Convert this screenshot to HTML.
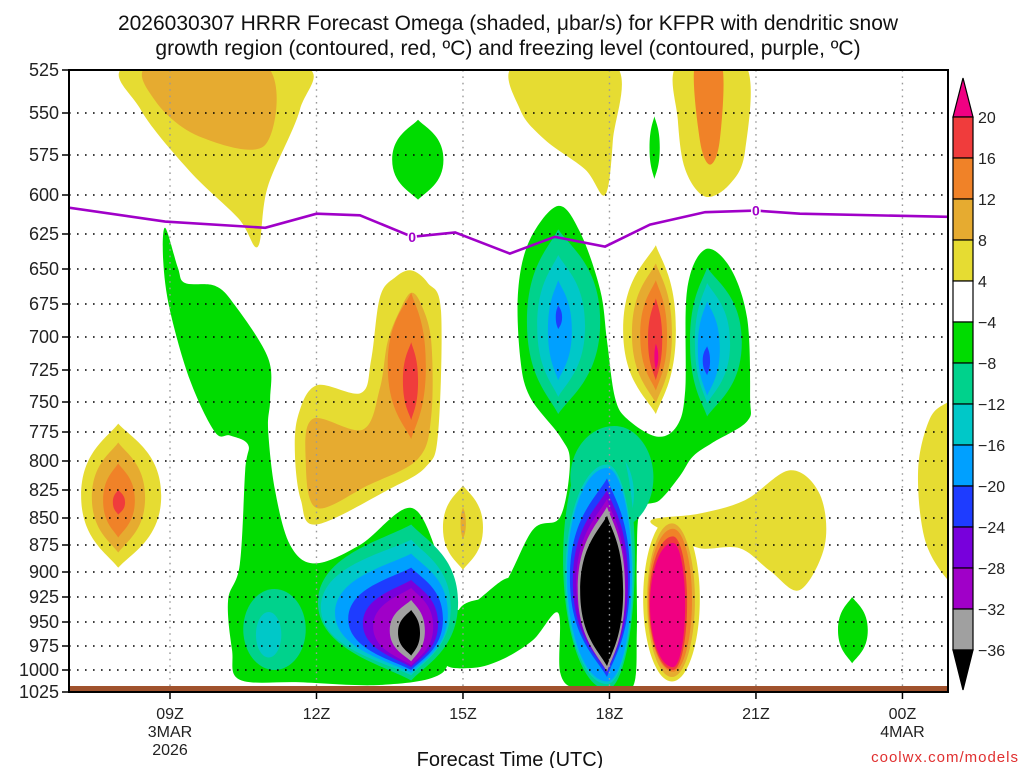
<!DOCTYPE html>
<html><head><meta charset="utf-8"><title>HRRR Omega KFPR</title>
<style>
html,body{margin:0;padding:0;background:#fff;}
svg{display:block;font-family:"Liberation Sans","DejaVu Sans",sans-serif;}
</style></head>
<body>
<svg id="chart" width="1024" height="768" viewBox="0 0 1024 768" xmlns="http://www.w3.org/2000/svg">
<rect width="1024" height="768" fill="#fff"/>
<text x="508" y="30" font-size="21" text-anchor="middle" fill="#111">2026030307 HRRR Forecast Omega (shaded, μbar/s) for KFPR with dendritic snow</text>
<text x="508" y="55" font-size="21" text-anchor="middle" fill="#111">growth region (contoured, red, ºC) and freezing level (contoured, purple, ºC)</text>
<defs><clipPath id="plotclip"><rect x="69" y="70" width="879" height="622"/></clipPath></defs>
<g id="fills" clip-path="url(#plotclip)"></g>
<g id="grid"></g>
<g id="fz" clip-path="url(#plotclip)"></g>
<rect x="69" y="686" width="879" height="6" fill="#a0522d"/>
<rect x="69" y="70" width="879" height="622" fill="none" stroke="#000" stroke-width="2"/>
<g id="axes"></g>
<g id="cbar"></g>
<text x="510" y="766" font-size="20" text-anchor="middle" fill="#111">Forecast Time (UTC)</text>
<text x="1019" y="762" font-size="15" text-anchor="end" fill="#e03030" letter-spacing="1">coolwx.com/models</text>
</svg>
<script>
const pressureTicks=[525,550,575,600,625,650,675,700,725,750,775,800,825,850,875,900,925,950,975,1000,1025];
const pressureTickY=[70,113,155,195,234,269,304,337,370,402,432,461,490,518,545,572,597,622,646,670,692];
const timeTicks=[9,12,15,18,21,24];
const timeTickLabels=["09Z","12Z","15Z","18Z","21Z","00Z"];
const timeTickSub1=["3MAR","","","","","4MAR"];
const timeTickSub2=["2026","","","","",""];
const cbarLabels=["20","16","12","8","4","−4","−8","−12","−16","−20","−24","−28","−32","−36"];
const freezeTimes=[6.91,8.90,10.95,12.0,12.89,13.96,14.84,15.96,16.88,17.91,18.83,19.96,21.0,21.9,24.93];
const freezePressures=[608,617,621,612,613,627,624,639,627,634,619,611,610,612,614];
const freezeLabelTimes=[13.96,21.0];
const freezeLabelPressures=[627,610];
const COL={Y:"#e6dc32",Og:"#e6ab30",O:"#f08228",R:"#f03c3c",M:"#f00082",G:"#00dc00",GT:"#00d28c",C:"#00c8c8",LB:"#00a0ff",B:"#1e3cff",V:"#7800dc",P:"#a000c8",Gr:"#a0a0a0",K:"#000000",W:"#ffffff"};
const polyLevels=["Y","Og","Y","Y","O","G","G","Y","Y"];
const polyPoints=[
 [[8.18,522],[11.66,522],[11.66,548],[11.0,595],[10.8,634],[10.4,615],[9.4,585],[8.4,548]],
 [[8.6,522],[10.95,522],[10.95,569],[9.6,564],[8.7,543]],
 [[16.07,522],[18.11,522],[18.07,566],[17.91,600],[17.5,584],[16.68,566],[16.17,548]],
 [[19.4,522],[20.78,522],[20.78,572],[20.47,593],[19.96,601],[19.55,584],[19.4,554]],
 [[19.75,522],[20.3,522],[20.26,566],[20.06,581],[19.85,566]],
 [[8.90,621],[9.16,649],[9.31,660],[9.92,662],[10.33,676],[11.01,716],[11.05,748],[11.01,773],[11.15,825],[11.46,875],[11.97,892],[12.89,875],[13.94,841],[14.53,889],[14.90,938],[15.92,906],[16.2,930],[14.90,969],[14.53,1005],[13.30,1017],[11.66,1014],[10.43,1011],[10.27,979],[10.19,928],[10.43,893],[10.54,808],[10.60,786],[10.23,778],[9.92,775],[9.41,733],[9.0,680],[8.86,644]],
 [[16.95,607],[17.40,624],[17.81,665],[17.95,703],[18.11,746],[18.36,764],[18.97,779],[19.38,770],[19.55,741],[19.59,665],[19.96,636],[20.47,649],[20.82,686],[20.88,746],[20.82,766],[20.12,784],[19.71,796],[19.44,813],[19.03,834],[18.63,843],[18.56,889],[18.56,961],[18.48,1019],[17.95,1025],[17.33,1022],[16.99,1003],[16.95,941],[16.43,969],[15.76,990],[15.14,998],[14.6,990],[14.94,936],[15.76,918],[16.43,861],[16.99,849],[17.19,801],[16.99,779],[16.37,746],[16.17,715],[16.13,665],[16.37,629]],
 [[18.85,852],[19.85,846],[20.78,834],[21.7,808],[22.31,829],[22.41,875],[21.9,918],[21.29,899],[20.67,878],[19.85,878],[19.3,866]],
 [[25.2,745],[24.93,750],[24.56,764],[24.32,808],[24.46,870],[24.93,908],[25.2,910]]
];
const blobLevels=["Y","Og","Y","Og","O","R","O","R","Y","Og","G","G","GT","C","GT","C","LB","B","V","P","Gr","K","GT","C","LB","B","GT","C","LB","B","Y","Og","O","R","M","GT","C","GT","C","LB","B","V","P","Gr","K","Y","Og","O","R","M","G"];
const blobTimes=[14.0,13.46,7.94,7.94,7.94,7.94,13.94,13.94,15.0,15.0,14.08,18.92,11.14,11.02,13.94,13.94,13.94,13.94,13.94,13.94,13.94,13.94,16.95,16.95,16.95,16.95,20.0,20.0,20.0,20.0,18.95,18.95,18.95,18.95,18.95,18.1,17.95,17.95,17.95,17.95,17.95,17.95,17.95,17.95,17.95,19.28,19.28,19.3,19.3,19.3,22.97];
const blobLeft=[13.0,0,7.18,7.40,7.63,7.83,13.46,13.77,14.59,14.95,13.55,18.82,10.5,10.76,12.03,12.09,12.38,12.65,12.95,13.16,13.5,13.67,16.31,16.52,16.74,16.9,19.65,19.75,19.81,19.91,18.28,18.46,18.63,18.79,18.92,17.2,17.4,17.05,17.10,17.13,17.19,17.25,17.32,17.35,17.40,18.69,18.77,18.79,18.81,18.83,22.68];
const blobRight=[0,0,8.82,8.49,8.28,8.08,14.24,14.08,15.41,15.06,14.6,19.03,11.78,11.28,14.90,14.75,14.69,14.59,14.49,14.39,14.22,14.12,17.81,17.50,17.23,17.03,20.71,20.47,20.26,20.06,19.36,19.28,19.18,19.08,19.0,18.9,18.5,18.52,18.48,18.46,18.42,18.38,18.33,18.32,18.28,19.85,19.75,19.69,19.59,19.55,23.29];
const blobTop=[0,0,768,784,802,825,667,704,821,840,554,552,917,940,856,870,883,896,908,916,928,938,622,640,658,676,649,660,673,707,633,646,658,671,705,770,790,773,803,806,815,825,833,840,848,849,855,860,867,873,925];
const blobBottom=[0,0,896,882,868,847,781,765,898,870,603,590,1000,987,1012,1006,1003,1000,997,995,991,985,760,746,733,694,762,751,745,729,760,751,741,733,725,860,870,1022,1016,1013,1008,1003,1000,1002,996,1013,1008,1002,1000,997,993];
const blobPointed=[0,0,1,1,1,1,1,1,1,1,1,1,0,0,1,1,1,1,1,1,1,1,1,1,1,1,1,1,1,1,1,1,1,1,1,0,0,0,0,0,1,1,1,1,1,0,0,0,0,0,1];
const centerPolyLevels=["Y","Og"];
const centerPolyPoints=[
 [[12.0,737],[12.91,743],[13.12,717],[13.30,670],[13.61,656],[13.94,651],[14.28,660],[14.55,680],[14.49,776],[14.24,805],[13.46,825],[12.0,856],[11.68,834],[11.56,796],[11.62,762]],
 [[11.93,764],[12.95,773],[13.30,739],[13.46,703],[13.73,678],[13.94,667],[14.14,675],[14.35,703],[14.35,762],[14.08,798],[13.05,821],[12.0,841],[11.78,799]]
];

const NS="http://www.w3.org/2000/svg";
const X0=170, PX_PER_H=48.83;
function X(t){return X0+(t-9)*PX_PER_H;}
function Y(p){
  if(p<=pressureTicks[0]) return pressureTickY[0]+(p-pressureTicks[0])*(pressureTickY[1]-pressureTickY[0])/25;
  for(let i=0;i<pressureTicks.length-1;i++){
    if(p<=pressureTicks[i+1]){const f=(p-pressureTicks[i])/(pressureTicks[i+1]-pressureTicks[i]);return pressureTickY[i]+f*(pressureTickY[i+1]-pressureTickY[i]);}
  }
  const n=pressureTicks.length-1;return pressureTickY[n]+(p-pressureTicks[n])*0.9;
}
function mk(tag,attrs,parent){const e=document.createElementNS(NS,tag);for(const k in attrs)e.setAttribute(k,attrs[k]);parent.appendChild(e);return e;}
function smoothPath(pts){
  const n=pts.length;let d="M"+pts[0][0].toFixed(1)+","+pts[0][1].toFixed(1);
  for(let i=0;i<n;i++){
    const p0=pts[(i-1+n)%n],p1=pts[i],p2=pts[(i+1)%n],p3=pts[(i+2)%n];
    const c1=[p1[0]+(p2[0]-p0[0])/6,p1[1]+(p2[1]-p0[1])/6];
    const c2=[p2[0]-(p3[0]-p1[0])/6,p2[1]-(p3[1]-p1[1])/6];
    d+="C"+c1[0].toFixed(1)+","+c1[1].toFixed(1)+" "+c2[0].toFixed(1)+","+c2[1].toFixed(1)+" "+p2[0].toFixed(1)+","+p2[1].toFixed(1);
  }
  return d+"Z";
}
function blobPath(tc,tl,tr,pt,pb,pointed){
  const xc=X(tc),xl=X(tl),xr=X(tr),yt=Y(pt),yb=Y(pb),ym=(yt+yb)/2;
  const kx=pointed?0.3:0.55, ky=pointed?0.6:0.55, ty=pointed?0.2:0;
  let d="M"+xc+","+yt;
  d+="C"+(xc+kx*(xr-xc))+","+(yt+ty*(ym-yt))+" "+xr+","+(ym-ky*(ym-yt))+" "+xr+","+ym;
  d+="C"+xr+","+(ym+ky*(yb-ym))+" "+(xc+kx*(xr-xc))+","+(yb-ty*(yb-ym))+" "+xc+","+yb;
  d+="C"+(xc-kx*(xc-xl))+","+(yb-ty*(yb-ym))+" "+xl+","+(ym+ky*(yb-ym))+" "+xl+","+ym;
  d+="C"+xl+","+(ym-ky*(ym-yt))+" "+(xc-kx*(xc-xl))+","+(yt+ty*(ym-yt))+" "+xc+","+yt+"Z";
  return d;
}
const fills=document.getElementById("fills");
polyPoints.forEach((poly,i)=>{
  const el=mk("path",{d:smoothPath(poly.map(q=>[X(q[0]),Y(q[1])])),fill:COL[polyLevels[i]]},fills);
  
  
});
centerPolyPoints.forEach((poly,i)=>{
  const el=mk("path",{d:smoothPath(poly.map(q=>[X(q[0]),Y(q[1])])),fill:COL[centerPolyLevels[i]]},fills);
  
  
});
blobTimes.forEach((t,i)=>{
  if(!blobTop[i]) return;
  const el=mk("path",{d:blobPath(t,blobLeft[i],blobRight[i],blobTop[i],blobBottom[i],blobPointed[i]),fill:COL[blobLevels[i]]},fills);
  
  
});
const grid=document.getElementById("grid");
pressureTicks.forEach((p,i)=>{
  if(i===0||i===pressureTicks.length-1) return;
  const el=mk("line",{x1:69,x2:948,y1:Y(p),y2:Y(p),stroke:"#000","stroke-width":1.6,"stroke-dasharray":"1.6 6.4"},grid);
  
  
});
timeTicks.forEach(t=>{
  const el=mk("line",{x1:X(t),x2:X(t),y1:70,y2:692,stroke:"#999","stroke-width":1.4,"stroke-dasharray":"1.6 4.8"},grid);
  
  
});
const fz=document.getElementById("fz");
const fzEl=mk("polyline",{points:freezeTimes.map((t,i)=>X(t)+","+Y(freezePressures[i])).join(" "),fill:"none",stroke:"#a000c8","stroke-width":2.6},fz);


freezeLabelTimes.forEach((t,i)=>{
  const el=mk("text",{x:X(t),y:Y(freezeLabelPressures[i])+5,"font-size":14,"font-weight":"bold","text-anchor":"middle",fill:"#a000c8",stroke:"#fff","stroke-width":3,"paint-order":"stroke"},fz);
  el.textContent="0";
  
  
});
const axes=document.getElementById("axes");
pressureTicks.forEach(p=>{
  const y=Y(p);
  const tk=mk("line",{x1:62,x2:69,y1:y,y2:y,stroke:"#000","stroke-width":1.5},axes);
  
  
  const el=mk("text",{x:59,y:y+6,"font-size":18,"text-anchor":"end",fill:"#222"},axes);
  el.textContent=p;
  
  
});
timeTicks.forEach((t,i)=>{
  const x=X(t);
  const tk=mk("line",{x1:x,x2:x,y1:692,y2:699,stroke:"#000","stroke-width":1.5},axes);
  
  
  const el=mk("text",{x:x,y:719,"font-size":16,"text-anchor":"middle",fill:"#222"},axes);
  el.textContent=timeTickLabels[i];
  
  
  if(timeTickSub1[i]){
    const s=mk("text",{x:x,y:737,"font-size":16,"text-anchor":"middle",fill:"#222"},axes);
    s.textContent=timeTickSub1[i];
    
    
  }
  if(timeTickSub2[i]){
    const s=mk("text",{x:x,y:755,"font-size":16,"text-anchor":"middle",fill:"#222"},axes);
    s.textContent=timeTickSub2[i];
    
    
  }
});
const cbar=document.getElementById("cbar");
const cbarColors=["R","O","Og","Y","W","G","GT","C","LB","B","V","P","Gr"];
const cx=953,cw=20,ctop=117,cstep=(650-117)/13;
const upTri=mk("polygon",{points:`${cx},${ctop} ${cx+cw},${ctop} ${cx+cw/2},78`,fill:COL.M,stroke:"#000","stroke-width":1.2},cbar);


cbarColors.forEach((c,i)=>{
  const r=mk("rect",{x:cx,y:ctop+i*cstep,width:cw,height:cstep,fill:COL[c],stroke:"#000","stroke-width":1.2},cbar);
  
  
});
const dnTri=mk("polygon",{points:`${cx},650 ${cx+cw},650 ${cx+cw/2},690`,fill:"#000",stroke:"#000","stroke-width":1.2},cbar);


cbarLabels.forEach((l,i)=>{
  const el=mk("text",{x:978,y:ctop+i*cstep+6,"font-size":16,fill:"#222"},cbar);
  el.textContent=l;
  
  
});
</script>
</body></html>
